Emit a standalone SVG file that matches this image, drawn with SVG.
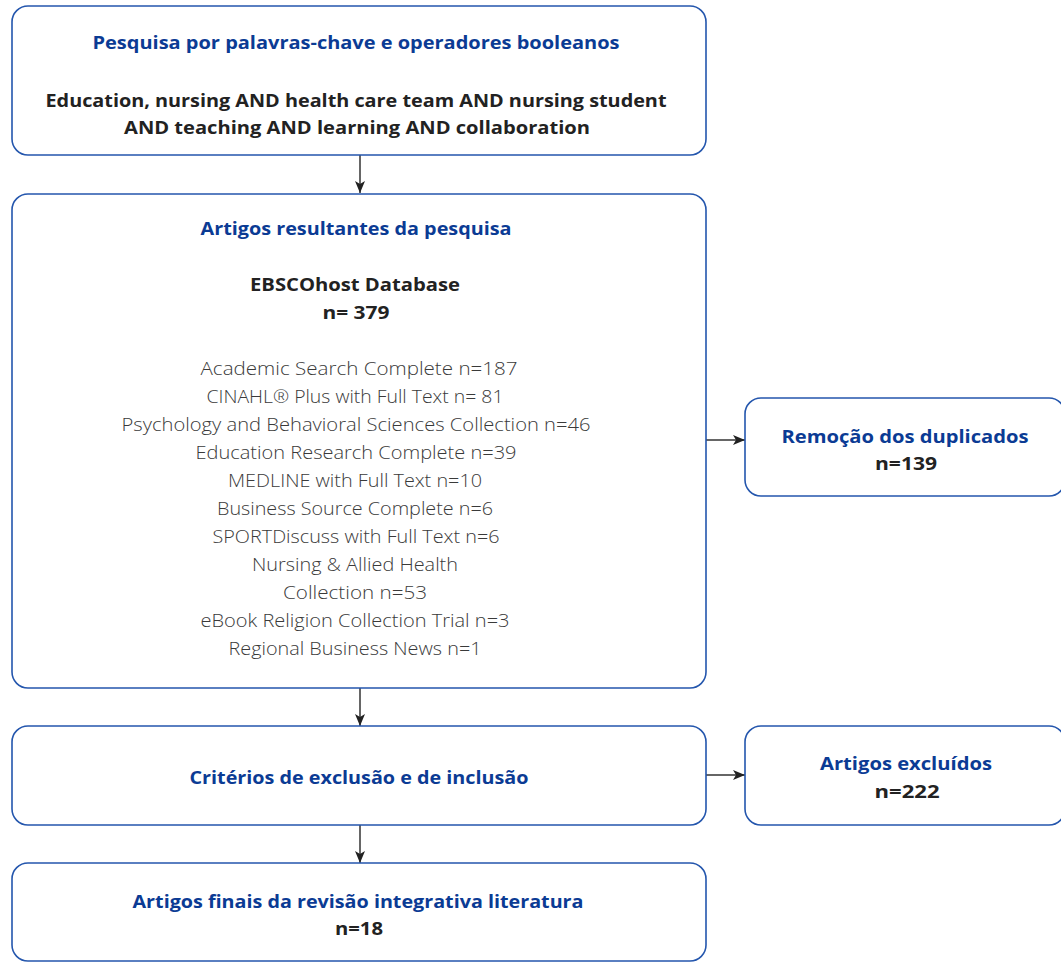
<svg xmlns="http://www.w3.org/2000/svg" width="1061" height="962" viewBox="0 0 1061 962">
<defs>
<marker id="arr" viewBox="0 0 12 10" refX="12" refY="5" markerWidth="12" markerHeight="10" markerUnits="userSpaceOnUse" orient="auto">
<path d="M0,0 L12,5 L0,10 L3,5 z" fill="#222"/>
</marker>
</defs>
<style>
.box{fill:#fff;stroke:#2456ad;stroke-width:1.6}
.t{font-family:"Open Sans","Liberation Sans",sans-serif;font-weight:700;font-size:18px;fill:#0b3b94;text-anchor:middle}
.b{font-family:"Open Sans","Liberation Sans",sans-serif;font-weight:700;font-size:18px;fill:#222;text-anchor:middle}
.l{font-family:"Open Sans","Liberation Sans",sans-serif;font-weight:300;font-size:18px;fill:#3a3a3a;text-anchor:middle}
.c{stroke:#333;stroke-width:1.5;fill:none}
</style>
<rect width="1061" height="962" fill="#fff"/>
<g id="connectors">
<line class="c" x1="360" y1="155" x2="360" y2="193" marker-end="url(#arr)"/>
<line class="c" x1="360" y1="688" x2="360" y2="726" marker-end="url(#arr)"/>
<line class="c" x1="360" y1="825" x2="360" y2="863" marker-end="url(#arr)"/>
<line class="c" x1="706" y1="440" x2="745" y2="440" marker-end="url(#arr)"/>
<line class="c" x1="706" y1="775" x2="745" y2="775" marker-end="url(#arr)"/>
</g>
<g id="n1">
<rect class="box" x="12" y="6" width="694" height="149" rx="16"/>
<text class="t" x="356" y="49" textLength="527" lengthAdjust="spacingAndGlyphs">Pesquisa por palavras-chave e operadores booleanos</text>
<text class="b" x="356" y="107" textLength="621" lengthAdjust="spacingAndGlyphs">Education, nursing AND health care team AND nursing student</text>
<text class="b" x="357" y="134" textLength="466" lengthAdjust="spacingAndGlyphs">AND teaching AND learning AND collaboration</text>
</g>
<g id="n2">
<rect class="box" x="12" y="194" width="694" height="494" rx="16"/>
<text class="t" x="356" y="235" textLength="311" lengthAdjust="spacingAndGlyphs">Artigos resultantes da pesquisa</text>
<text class="b" x="355" y="291" textLength="210" lengthAdjust="spacingAndGlyphs">EBSCOhost Database</text>
<text class="b" x="356" y="319" textLength="67" lengthAdjust="spacingAndGlyphs">n= 379</text>
<text class="l" x="359" y="375" textLength="317" lengthAdjust="spacingAndGlyphs">Academic Search Complete n=187</text>
<text class="l" x="355" y="403" textLength="297" lengthAdjust="spacingAndGlyphs">CINAHL® Plus with Full Text n= 81</text>
<text class="l" x="356" y="431" textLength="469" lengthAdjust="spacingAndGlyphs">Psychology and Behavioral Sciences Collection n=46</text>
<text class="l" x="356" y="459" textLength="321" lengthAdjust="spacingAndGlyphs">Education Research Complete n=39</text>
<text class="l" x="355" y="487" textLength="254" lengthAdjust="spacingAndGlyphs">MEDLINE with Full Text n=10</text>
<text class="l" x="355" y="515" textLength="276" lengthAdjust="spacingAndGlyphs">Business Source Complete n=6</text>
<text class="l" x="356" y="543" textLength="287" lengthAdjust="spacingAndGlyphs">SPORTDiscuss with Full Text n=6</text>
<text class="l" x="355" y="571" textLength="206" lengthAdjust="spacingAndGlyphs">Nursing &amp; Allied Health</text>
<text class="l" x="355" y="599" textLength="144" lengthAdjust="spacingAndGlyphs">Collection n=53</text>
<text class="l" x="355" y="627" textLength="309" lengthAdjust="spacingAndGlyphs">eBook Religion Collection Trial n=3</text>
<text class="l" x="355" y="655" textLength="253" lengthAdjust="spacingAndGlyphs">Regional Business News n=1</text>
</g>
<g id="n3">
<rect class="box" x="745" y="398" width="320" height="98" rx="16"/>
<text class="t" x="905" y="443" textLength="247" lengthAdjust="spacingAndGlyphs">Remoção dos duplicados</text>
<text class="b" x="906" y="470" textLength="62" lengthAdjust="spacingAndGlyphs">n=139</text>
</g>
<g id="n4">
<rect class="box" x="12" y="726" width="694" height="99" rx="16"/>
<text class="t" x="359" y="784" textLength="339" lengthAdjust="spacingAndGlyphs">Critérios de exclusão e de inclusão</text>
</g>
<g id="n5">
<rect class="box" x="745" y="726" width="320" height="99" rx="16"/>
<text class="t" x="906" y="770" textLength="172" lengthAdjust="spacingAndGlyphs">Artigos excluídos</text>
<text class="b" x="907" y="798" textLength="65" lengthAdjust="spacingAndGlyphs">n=222</text>
</g>
<g id="n6">
<rect class="box" x="12" y="863" width="694" height="98" rx="16"/>
<text class="t" x="358" y="908" textLength="451" lengthAdjust="spacingAndGlyphs">Artigos finais da revisão integrativa literatura</text>
<text class="b" x="359" y="935" textLength="48" lengthAdjust="spacingAndGlyphs">n=18</text>
</g>
</svg>
